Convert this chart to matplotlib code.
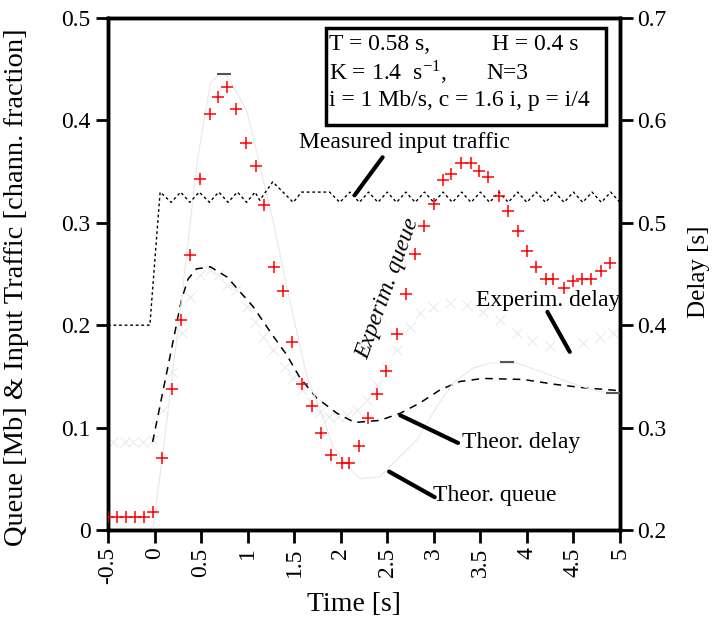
import matplotlib
matplotlib.use("Agg")
import matplotlib.pyplot as plt
from matplotlib.patches import Rectangle
from matplotlib.ticker import FormatStrFormatter, MultipleLocator

'''
Queue / delay response of the rate controller: theory vs experiment
'''

plt.rcParams['font.family'] = ['Liberation Serif', 'DejaVu Serif']
plt.rcParams['mathtext.fontset'] = 'stix'
plt.rcParams['axes.unicode_minus'] = False

# Experimental queue [Mb] (red crosses)
expQueueT = [-0.50, -0.40, -0.31, -0.21, -0.11, -0.02, 0.08, 0.19, 0.28, 0.38,
             0.49, 0.60, 0.68, 0.78, 0.87, 0.98, 1.09, 1.18, 1.28, 1.38,
             1.48, 1.58, 1.69, 1.79, 1.90, 2.01, 2.09, 2.20, 2.29, 2.39,
             2.49, 2.60, 2.70, 2.80, 2.90, 3.00, 3.10, 3.18, 3.29, 3.40,
             3.49, 3.58, 3.70, 3.80, 3.90, 4.00, 4.10, 4.20, 4.28, 4.40,
             4.49, 4.59, 4.69, 4.80, 4.89]
expQueue = [0.013, 0.013, 0.013, 0.013, 0.013, 0.018, 0.070, 0.138, 0.205, 0.269,
            0.343, 0.406, 0.423, 0.433, 0.411, 0.378, 0.355, 0.317, 0.257, 0.233,
            0.184, 0.143, 0.121, 0.095, 0.073, 0.065, 0.065, 0.082, 0.109, 0.133,
            0.155, 0.191, 0.230, 0.270, 0.297, 0.318, 0.342, 0.348, 0.358, 0.358,
            0.351, 0.345, 0.326, 0.312, 0.292, 0.272, 0.257, 0.245, 0.245, 0.236,
            0.243, 0.245, 0.245, 0.253, 0.261]

# Theoretical queue [Mb] (thin light line)
theoQueueT = [-0.02, 0.08, 0.29, 0.46, 0.60, 0.70, 0.78, 0.99, 1.16, 1.27,
              1.45, 1.64, 1.78, 1.92, 2.10, 2.21, 2.42, 2.53, 2.82, 3.03,
              3.21, 3.42, 3.60, 3.89, 4.17, 4.46, 4.78, 5.00]
theoQueue = [0.000, 0.068, 0.225, 0.361, 0.437, 0.445, 0.444, 0.410, 0.345, 0.303,
             0.225, 0.149, 0.117, 0.081, 0.059, 0.050, 0.052, 0.062, 0.088, 0.120,
             0.144, 0.158, 0.163, 0.163, 0.154, 0.144, 0.135, 0.134]
# extreme marks on theoretical queue
theoMarkT = [0.75, 3.79, 4.93]
theoMark = [0.445, 0.164, 0.134]

# Measured input traffic [channel fraction]
trafficT = [-0.50, -0.05, 0.06, 0.18, 0.28, 0.38, 0.48, 0.59, 0.69, 0.79,
            0.89, 0.99, 1.08, 1.13, 1.27, 1.49, 1.58, 1.88, 1.99, 2.10,
            2.20, 2.30, 2.40, 2.50, 2.60, 2.70, 2.80, 2.90, 3.00, 3.10,
            3.20, 3.30, 3.40, 3.50, 3.60, 3.70, 3.80, 3.90, 4.00, 4.10,
            4.20, 4.30, 4.40, 4.50, 4.60, 4.70, 4.80, 4.90, 5.00]
traffic = [0.200, 0.200, 0.330, 0.320, 0.330, 0.320, 0.330, 0.320, 0.330, 0.320,
           0.330, 0.320, 0.330, 0.322, 0.340, 0.320, 0.330, 0.330, 0.320, 0.330,
           0.320, 0.330, 0.320, 0.330, 0.320, 0.330, 0.320, 0.330, 0.320, 0.330,
           0.320, 0.330, 0.320, 0.330, 0.320, 0.330, 0.320, 0.330, 0.320, 0.330,
           0.320, 0.330, 0.320, 0.330, 0.320, 0.330, 0.320, 0.330, 0.320]

# Theoretical delay [s] (dashed, right axis)
theoDelayT = [-0.02, 0.29, 0.36, 0.45, 0.60, 0.78, 1.06, 1.27, 1.42, 1.56,
              1.74, 1.96, 2.15, 2.42, 2.64, 2.85, 3.07, 3.28, 3.53, 3.96,
              4.32, 4.60, 5.00]
theoDelay = [0.286, 0.425, 0.445, 0.455, 0.457, 0.447, 0.418, 0.390, 0.371, 0.349,
             0.329, 0.314, 0.305, 0.307, 0.314, 0.324, 0.337, 0.345, 0.348, 0.347,
             0.342, 0.339, 0.336]

# Experimental delay [s] (light grey x, right axis)
expDelayT = [-0.45, -0.32, -0.23, -0.12, -0.02, 0.09, 0.19, 0.29, 0.38, 0.49,
             0.60, 0.68, 0.78, 0.87, 0.99, 1.08, 1.16, 1.27, 1.40, 1.49,
             1.58, 1.68, 1.78, 1.87, 1.97, 2.07, 2.17, 2.28, 2.39, 2.50,
             2.60, 2.74, 2.85, 2.99, 3.17, 3.36, 3.53, 3.71, 3.89, 4.06,
             4.25, 4.43, 4.60, 4.78, 4.92]
expDelay = [0.286, 0.286, 0.286, 0.286, 0.288, 0.317, 0.354, 0.392, 0.428, 0.449,
            0.454, 0.449, 0.439, 0.434, 0.418, 0.403, 0.388, 0.376, 0.359, 0.348,
            0.337, 0.325, 0.315, 0.310, 0.310, 0.312, 0.317, 0.327, 0.342, 0.358,
            0.376, 0.398, 0.412, 0.418, 0.422, 0.420, 0.413, 0.405, 0.392, 0.385,
            0.380, 0.378, 0.383, 0.388, 0.392]

xTicks = [-0.5, 0, 0.5, 1, 1.5, 2, 2.5, 3, 3.5, 4, 4.5, 5]

FS = 17

fig = plt.figure(figsize=(7.16, 6.26), dpi=100)
ax = fig.add_axes([0.1508, 0.1534, 0.7151, 0.8178])
ax2 = ax.twinx()

# Left axis curves
ax.plot(theoQueueT, theoQueue, color="#e8e8e8", lw=0.8, zorder=2)
ax.plot(theoMarkT, theoMark, linestyle="None", marker="_", ms=10, mew=1.5,
        color="#555555", zorder=3)
ax.plot(trafficT, traffic, color="black", lw=1.0, linestyle=(0, (2, 2)), zorder=3)
ax.plot(expQueueT, expQueue, linestyle="None", marker="+", ms=9, mew=1.1,
        color="red", zorder=5)

# Right axis curves
ax2.plot(expDelayT, expDelay, linestyle="None", marker="x", ms=7, mew=0.6,
         color="#e4e4e4", zorder=1)
ax2.plot(theoDelayT, theoDelay, color="black", lw=1.1, linestyle=(0, (5, 4)), zorder=4)

ax.set_xlim(-0.5, 5)
ax.set_ylim(0, 0.5)
ax2.set_ylim(0.2, 0.7)

ax.set_xticks(xTicks)
ax.xaxis.set_major_formatter(FormatStrFormatter('%g'))
ax.yaxis.set_major_locator(MultipleLocator(0.1))
ax.yaxis.set_major_formatter(FormatStrFormatter('%g'))
ax2.yaxis.set_major_locator(MultipleLocator(0.1))
ax2.yaxis.set_major_formatter(FormatStrFormatter('%g'))

for a in (ax, ax2):
    a.tick_params(direction='out', length=9, width=2, labelsize=FS)
    for s in a.spines.values():
        s.set_linewidth(2.5)
for lab in ax.get_xticklabels():
    lab.set_rotation(90)
    lab.set_va('top')

ax.set_xlabel('Time [s]', fontsize=20)
ax.xaxis.set_label_coords(0.48, -0.122)
ax.set_ylabel('Queue [Mb] & Input Traffic [chann. fraction]', fontsize=20.5)
ax.yaxis.set_label_coords(-0.155, 0.475)
ax2.set_ylabel('Delay [s]', fontsize=18)
ax2.yaxis.set_label_coords(1.133, 0.505)

# Parameter box
ax.add_patch(Rectangle((1.84, 0.396), 3.01, 0.094, fill=False, lw=2.5,
                       edgecolor="black", zorder=6))
ax.text(1.87, 0.474, 'T = 0.58 s,', fontsize=FS, va='center', zorder=7)
ax.text(3.62, 0.474, 'H = 0.4 s', fontsize=FS, va='center', zorder=7)
ax.text(1.87, 0.446, r'K = 1.4  s$^{\mathregular{-1}}$,', fontsize=FS, va='center', zorder=7)
ax.text(3.56, 0.446, 'N=3', fontsize=FS, va='center', zorder=7)
ax.text(1.87, 0.419, 'i = 1 Mb/s, c = 1.6 i, p = i/4', fontsize=FS, va='center', zorder=7)

# Curve labels with pointer lines
line = dict(arrowstyle='-', lw=3, color='black', shrinkA=0, shrinkB=0)
ax.annotate('Measured input traffic', xy=(2.15, 0.327), xytext=(2.68, 0.378),
            fontsize=FS, ha='center', va='center', zorder=7)
ax.annotate('', xy=(2.15, 0.327), xytext=(2.45, 0.364), arrowprops=line)
ax.text(2.51, 0.236, 'Experim. queue', fontsize=FS, style='italic', rotation=70,
        ha='center', va='center', zorder=7)
ax.text(4.23, 0.224, 'Experim. delay', fontsize=FS, ha='center', va='center',
        zorder=7, clip_on=False)
ax.annotate('', xy=(4.46, 0.174), xytext=(4.22, 0.213), arrowprops=line)
ax.text(3.94, 0.085, 'Theor. delay', fontsize=FS, ha='center', va='center', zorder=7)
ax.annotate('', xy=(2.64, 0.112), xytext=(3.26, 0.085), arrowprops=line)
ax.text(3.66, 0.034, 'Theor. queue', fontsize=FS, ha='center', va='center', zorder=7)
ax.annotate('', xy=(2.52, 0.057), xytext=(3.01, 0.032), arrowprops=line)

ax.set_zorder(ax2.get_zorder() + 1)
ax.patch.set_visible(False)

fig.savefig('out.png', dpi=100)
